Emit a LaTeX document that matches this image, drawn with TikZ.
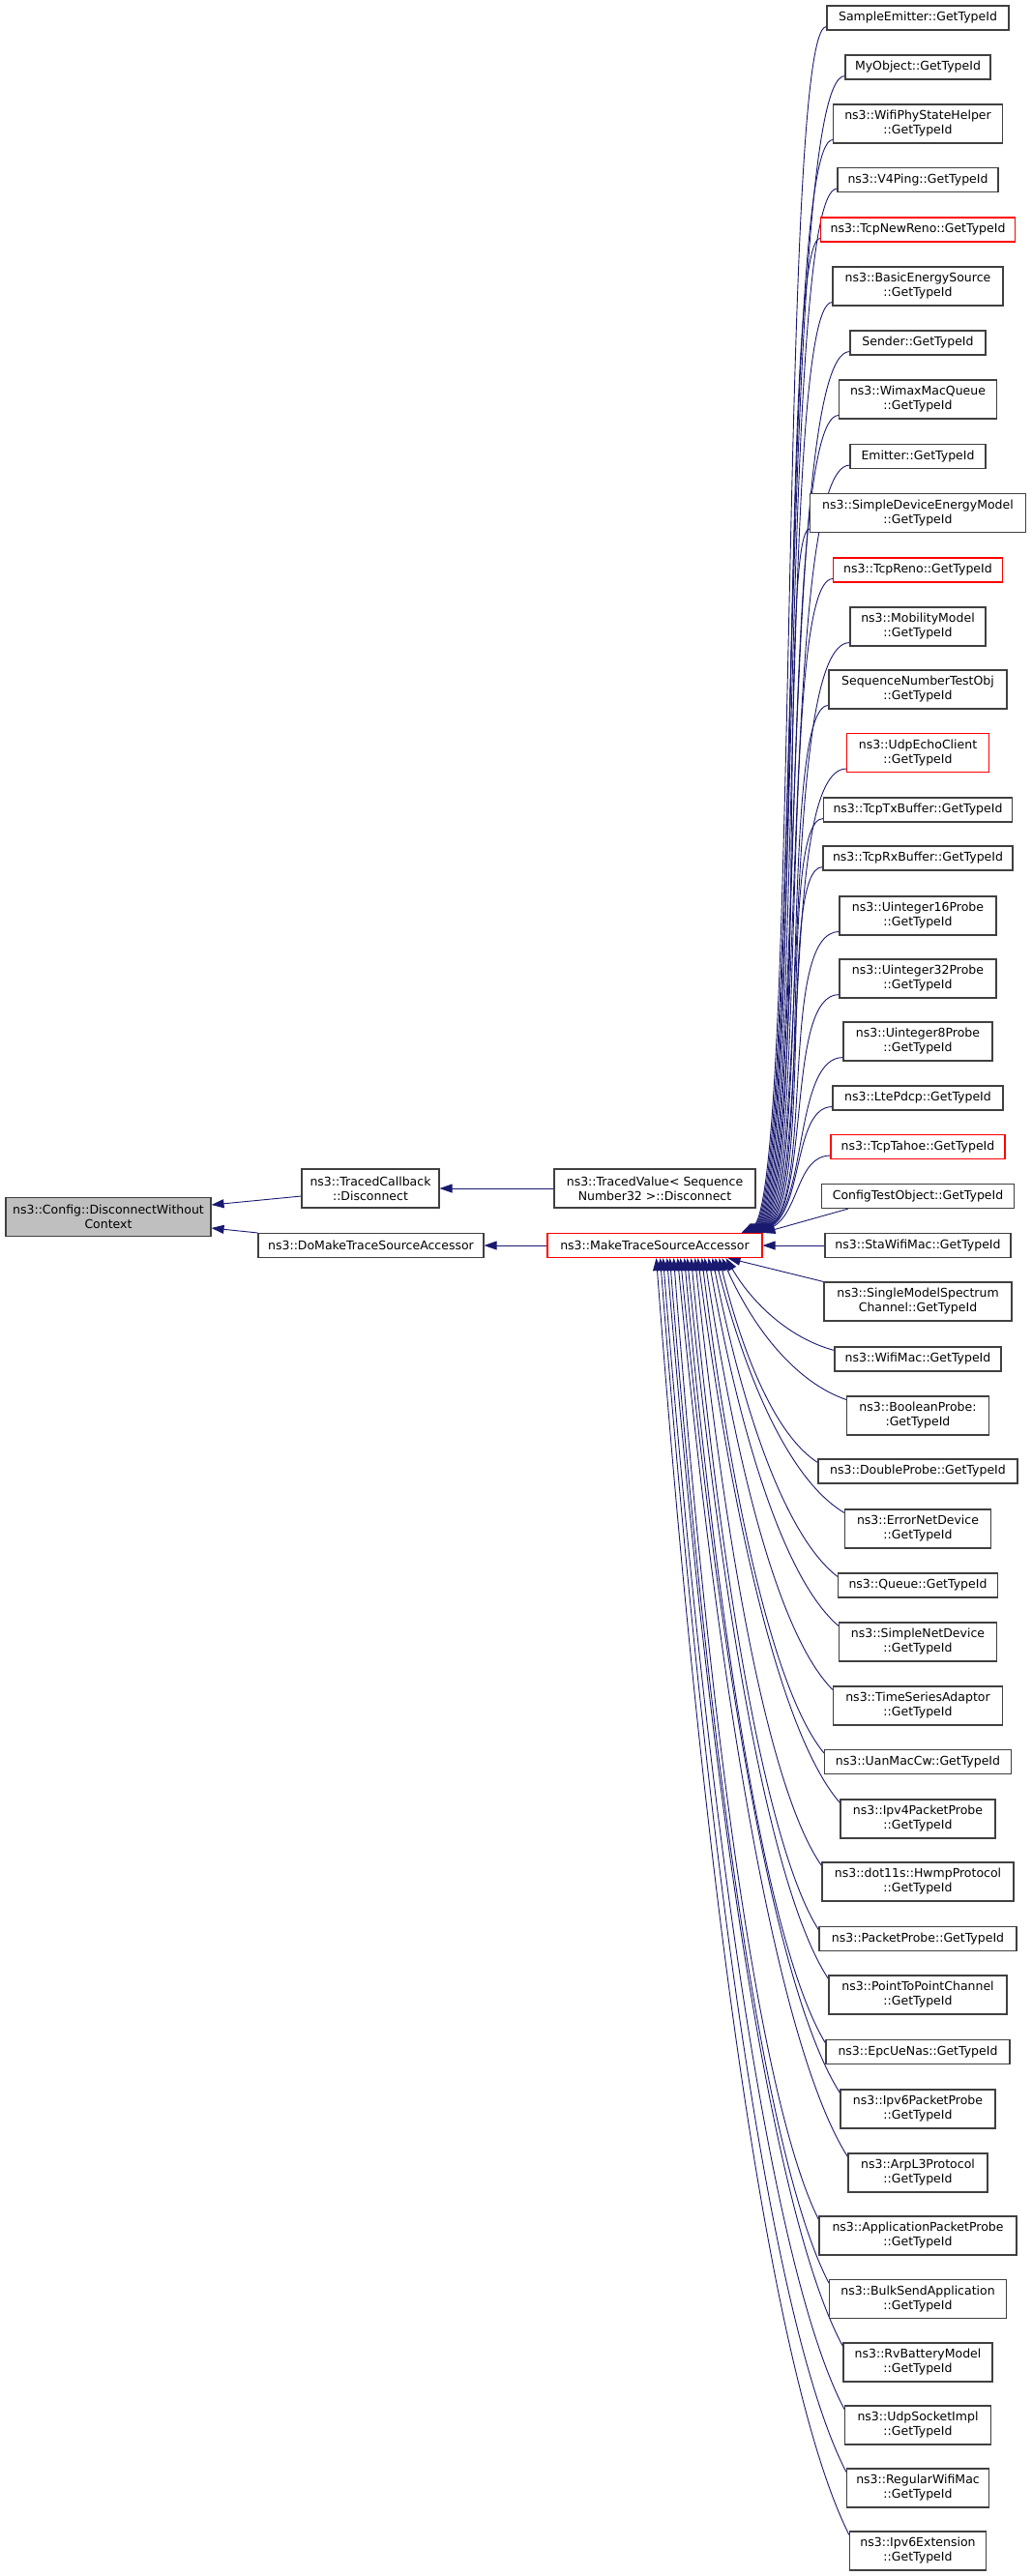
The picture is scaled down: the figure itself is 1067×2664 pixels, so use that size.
\documentclass[tikz,border=0pt]{standalone}
\usepackage{fontspec}
\setmainfont{DejaVu Sans}
\usetikzlibrary{calc, arrows.meta, backgrounds}
\definecolor{edgeblue}{HTML}{191970}
\definecolor{nodegray}{HTML}{BFBFBF}

\begin{document}
\begin{tikzpicture}[x = 1pt, y = -1pt,
 box/.style = {draw = black!75, line width = 1.1pt, fill = white, align = center, inner xsep = 0pt, inner ysep = 0pt, minimum height = 25pt, font = \fontsize{12.5pt}{15pt}\selectfont},
 box2/.style = {box, minimum height = 40pt},
 redbox/.style = {draw = red},
 edge/.style = {draw = edgeblue, line width = 0.9pt, -{Triangle[length = 13pt, width = 9pt]}}]
 \useasboundingbox (0,0) rectangle (1067,2664);
 % left part
 \node[box2, fill = nodegray, minimum width = 212pt] (DWC) at (112, 1258.5) {ns3::Config::DisconnectWithout\\Context};
 \node[box2, minimum width = 142pt] (TCB) at (383, 1229) {ns3::TracedCallback\\::Disconnect};
 \node[box, minimum width = 233pt] (DMTSA) at (383.5, 1288) {ns3::DoMakeTraceSourceAccessor};
 \node[box2, minimum width = 208pt] (TV) at (677, 1229) {ns3::TracedValue< Sequence\\Number32 >::Disconnect};
 \node[box, redbox, minimum width = 222pt] (MTSA) at (677, 1288) {ns3::MakeTraceSourceAccessor};
 % right column
 \node[box, minimum width = 188pt] (SE) at (949, 18.5) {SampleEmitter::GetTypeId};
 \node[box, minimum width = 150pt] (MO) at (949, 69.5) {MyObject::GetTypeId};
 \node[box2, minimum width = 175pt] (WPSH) at (949, 128) {ns3::WifiPhyStateHelper\\::GetTypeId};
 \node[box, minimum width = 166pt] (VP) at (949, 186) {ns3::V4Ping::GetTypeId};
 \node[box, redbox, minimum width = 201pt] (TNR) at (949, 237.5) {ns3::TcpNewReno::GetTypeId};
 \node[box2, minimum width = 176pt] (BES) at (949, 296) {ns3::BasicEnergySource\\::GetTypeId};
 \node[box, minimum width = 140pt] (SD) at (949, 354.5) {Sender::GetTypeId};
 \node[box2, minimum width = 163pt] (WMQ) at (949, 413) {ns3::WimaxMacQueue\\::GetTypeId};
 \node[box, minimum width = 140pt] (EM) at (949, 472) {Emitter::GetTypeId};
 \node[box2, minimum width = 223pt] (SDEM) at (949, 530.5) {ns3::SimpleDeviceEnergyModel\\::GetTypeId};
 \node[box, redbox, minimum width = 175pt] (TR) at (949, 589.5) {ns3::TcpReno::GetTypeId};
 \node[box2, minimum width = 140pt] (MM) at (949, 648) {ns3::MobilityModel\\::GetTypeId};
 \node[box2, minimum width = 184pt] (SNTO) at (949, 713) {SequenceNumberTestObj\\::GetTypeId};
 \node[box2, redbox, minimum width = 147pt] (UEC) at (949, 778.5) {ns3::UdpEchoClient\\::GetTypeId};
 \node[box, minimum width = 195pt] (TTB) at (949, 837.5) {ns3::TcpTxBuffer::GetTypeId};
 \node[box, minimum width = 196pt] (TRB) at (949, 887.5) {ns3::TcpRxBuffer::GetTypeId};
 \node[box2, minimum width = 162pt] (UP16) at (949, 947) {ns3::Uinteger16Probe\\::GetTypeId};
 \node[box2, minimum width = 162pt] (UP32) at (949, 1012) {ns3::Uinteger32Probe\\::GetTypeId};
 \node[box2, minimum width = 154pt] (UP8) at (949, 1077) {ns3::Uinteger8Probe\\::GetTypeId};
 \node[box, minimum width = 176pt] (LP) at (949, 1135.5) {ns3::LtePdcp::GetTypeId};
 \node[box, redbox, minimum width = 180pt] (TT) at (949, 1186) {ns3::TcpTahoe::GetTypeId};
 \node[box, minimum width = 199pt] (CTO) at (949, 1237) {ConfigTestObject::GetTypeId};
 \node[box, minimum width = 192pt] (SWM) at (949, 1288) {ns3::StaWifiMac::GetTypeId};
 \node[box2, minimum width = 194pt] (SMSC) at (949, 1346) {ns3::SingleModelSpectrum\\Channel::GetTypeId};
 \node[box, minimum width = 172pt] (WM) at (949, 1405.5) {ns3::WifiMac::GetTypeId};
 \node[box2, minimum width = 147pt] (BP) at (949, 1464) {ns3::BooleanProbe:\\:GetTypeId};
 \node[box, minimum width = 206pt] (DP) at (949, 1521.5) {ns3::DoubleProbe::GetTypeId};
 \node[box2, minimum width = 151pt] (END) at (949, 1581) {ns3::ErrorNetDevice\\::GetTypeId};
 \node[box, minimum width = 165pt] (QU) at (949, 1639.5) {ns3::Queue::GetTypeId};
 \node[box2, minimum width = 163pt] (SNDV) at (949, 1698) {ns3::SimpleNetDevice\\::GetTypeId};
 \node[box2, minimum width = 175pt] (TSA) at (949, 1764) {ns3::TimeSeriesAdaptor\\::GetTypeId};
 \node[box, minimum width = 193pt] (UMC) at (949, 1822) {ns3::UanMacCw::GetTypeId};
 \node[box2, minimum width = 160pt] (IP4) at (949, 1881) {ns3::Ipv4PacketProbe\\::GetTypeId};
 \node[box2, minimum width = 198pt] (HP) at (949, 1946) {ns3::dot11s::HwmpProtocol\\::GetTypeId};
 \node[box, minimum width = 204pt] (PP) at (949, 2005) {ns3::PacketProbe::GetTypeId};
 \node[box2, minimum width = 184pt] (PPC) at (949, 2063) {ns3::PointToPointChannel\\::GetTypeId};
 \node[box, minimum width = 190pt] (EUN) at (949, 2122) {ns3::EpcUeNas::GetTypeId};
 \node[box2, minimum width = 160pt] (IP6) at (949, 2181) {ns3::Ipv6PacketProbe\\::GetTypeId};
 \node[box2, minimum width = 144pt] (ARP) at (949, 2247) {ns3::ArpL3Protocol\\::GetTypeId};
 \node[box2, minimum width = 204pt] (APP) at (949, 2312) {ns3::ApplicationPacketProbe\\::GetTypeId};
 \node[box2, minimum width = 183pt] (BSA) at (949, 2377.5) {ns3::BulkSendApplication\\::GetTypeId};
 \node[box2, minimum width = 154pt] (RBM) at (949, 2443) {ns3::RvBatteryModel\\::GetTypeId};
 \node[box2, minimum width = 151pt] (USI) at (949, 2508) {ns3::UdpSocketImpl\\::GetTypeId};
 \node[box2, minimum width = 147pt] (RWM) at (949, 2573) {ns3::RegularWifiMac\\::GetTypeId};
 \node[box2, minimum width = 141pt] (IE) at (949, 2638) {ns3::Ipv6Extension\\::GetTypeId};
 \begin{pgfonlayer}{background}
 % left edges
 \draw[edge] ($(TCB.west)+(0,8)$) -- ($(DWC.east)+(0,-12.5)$);
 \draw[edge] (DMTSA.north west) -- ($(DWC.east)+(0,11.5)$);
 \draw[edge] (TV.west) -- (TCB.east);
 \draw[edge] (MTSA.west) -- (DMTSA.east);
 % edges into the top of MTSA
 \draw[edge] ($(SE.south west)+(0,-4)$) .. controls +(-50,0) and +(60,-30) .. ($(MTSA.north east)+(-22,0)$);
 \draw[edge] ($(MO.south west)+(0,-4)$) .. controls +(-69,0) and +(60,-30) .. ($(MTSA.north east)+(-21,0)$);
 \draw[edge] ($(WPSH.south west)+(0,-4)$) .. controls +(-57,0) and +(60,-30) .. ($(MTSA.north east)+(-20,0)$);
 \draw[edge] ($(VP.south west)+(0,-4)$) .. controls +(-61,0) and +(60,-30) .. ($(MTSA.north east)+(-19,0)$);
 \draw[edge] ($(TNR.south west)+(0,-4)$) .. controls +(-44,0) and +(60,-30) .. ($(MTSA.north east)+(-18,0)$);
 \draw[edge] ($(BES.south west)+(0,-4)$) .. controls +(-56,0) and +(60,-30) .. ($(MTSA.north east)+(-17,0)$);
 \draw[edge] ($(SD.south west)+(0,-4)$) .. controls +(-74,0) and +(60,-30) .. ($(MTSA.north east)+(-16,0)$);
 \draw[edge] ($(WMQ.south west)+(0,-4)$) .. controls +(-63,0) and +(60,-30) .. ($(MTSA.north east)+(-15,0)$);
 \draw[edge] ($(EM.south west)+(0,-4)$) .. controls +(-74,0) and +(60,-30) .. ($(MTSA.north east)+(-14,0)$);
 \draw[edge] ($(SDEM.south west)+(0,-4)$) .. controls +(-33,0) and +(60,-30) .. ($(MTSA.north east)+(-13,0)$);
 \draw[edge] ($(TR.south west)+(0,-4)$) .. controls +(-57,0) and +(60,-30) .. ($(MTSA.north east)+(-12,0)$);
 \draw[edge] ($(MM.south west)+(0,-4)$) .. controls +(-74,0) and +(60,-30) .. ($(MTSA.north east)+(-11,0)$);
 \draw[edge] ($(SNTO.south west)+(0,-4)$) .. controls +(-52,0) and +(60,-30) .. ($(MTSA.north east)+(-10,0)$);
 \draw[edge] ($(UEC.south west)+(0,-4)$) .. controls +(-71,0) and +(60,-30) .. ($(MTSA.north east)+(-9,0)$);
 \draw[edge] ($(TTB.south west)+(0,-4)$) .. controls +(-47,0) and +(60,-30) .. ($(MTSA.north east)+(-8,0)$);
 \draw[edge] ($(TRB.south west)+(0,-4)$) .. controls +(-46,0) and +(60,-30) .. ($(MTSA.north east)+(-7,0)$);
 \draw[edge] ($(UP16.south west)+(0,-4)$) .. controls +(-63,0) and +(60,-30) .. ($(MTSA.north east)+(-6,0)$);
 \draw[edge] ($(UP32.south west)+(0,-4)$) .. controls +(-55,0) and +(55,-30) .. ($(MTSA.north east)+(-5,0)$);
 \draw[edge] ($(UP8.south west)+(0,-4)$) .. controls +(-50,0) and +(50,-28) .. ($(MTSA.north east)+(-4,0)$);
 \draw[edge] ($(LP.south west)+(0,-4)$) .. controls +(-40,0) and +(45,-25) .. ($(MTSA.north east)+(-3,0)$);
 \draw[edge] ($(TT.south west)+(0,-4)$) .. controls +(-35,0) and +(40,-20) .. ($(MTSA.north east)+(-2,0)$);
 % straight ones
 \draw[edge] ($(CTO.south west)+(28,0)$) -- (MTSA.north east);
 \draw[edge] (SWM.west) -- (MTSA.east);
 \draw[edge] (SMSC.north west) -- ($(MTSA.south east)+(-36,0)$);
 % edges into the bottom of MTSA
 \draw[edge] ($(WM.north west)+(0,4)$) .. controls +(-45,-12) and +(28,48) .. ($(MTSA.south east)+(-38,0)$);
 \draw[edge] ($(BP.north west)+(0,4)$) .. controls +(-52,-18) and +(33,74) .. ($(MTSA.south east)+(-42,0)$);
 \draw[edge] ($(DP.north west)+(0,4)$) .. controls +(-41,-26) and +(26,107) .. ($(MTSA.south east)+(-45,0)$);
 \draw[edge] ($(END.north west)+(0,4)$) .. controls +(-54,-32) and +(34,133) .. ($(MTSA.south east)+(-49,0)$);
 \draw[edge] ($(QU.north west)+(0,4)$) .. controls +(-52,-40) and +(33,166) .. ($(MTSA.south east)+(-52,0)$);
 \draw[edge] ($(SNDV.north west)+(0,4)$) .. controls +(-54,-46) and +(34,191) .. ($(MTSA.south east)+(-56,0)$);
 \draw[edge] ($(TSA.north west)+(0,4)$) .. controls +(-54,-54) and +(34,224) .. ($(MTSA.south east)+(-60,0)$);
 \draw[edge] ($(UMC.north west)+(0,4)$) .. controls +(-51,-62) and +(32,257) .. ($(MTSA.south east)+(-63,0)$);
 \draw[edge] ($(IP4.north west)+(0,4)$) .. controls +(-59,-68) and +(37,283) .. ($(MTSA.south east)+(-67,0)$);
 \draw[edge] ($(HP.north west)+(0,4)$) .. controls +(-53,-76) and +(33,315) .. ($(MTSA.south east)+(-70,0)$);
 \draw[edge] ($(PP.north west)+(0,4)$) .. controls +(-53,-84) and +(33,348) .. ($(MTSA.south east)+(-74,0)$);
 \draw[edge] ($(PPC.north west)+(0,4)$) .. controls +(-59,-90) and +(37,374) .. ($(MTSA.south east)+(-78,0)$);
 \draw[edge] ($(EUN.north west)+(0,4)$) .. controls +(-59,-98) and +(37,407) .. ($(MTSA.south east)+(-81,0)$);
 \draw[edge] ($(IP6.north west)+(0,4)$) .. controls +(-66,-104) and +(42,433) .. ($(MTSA.south east)+(-85,0)$);
 \draw[edge] ($(ARP.north west)+(0,4)$) .. controls +(-71,-112) and +(44,466) .. ($(MTSA.south east)+(-88,0)$);
 \draw[edge] ($(APP.north west)+(0,4)$) .. controls +(-60,-120) and +(38,498) .. ($(MTSA.south east)+(-92,0)$);
 \draw[edge] ($(BSA.north west)+(0,4)$) .. controls +(-66,-127) and +(42,531) .. ($(MTSA.south east)+(-96,0)$);
 \draw[edge] ($(RBM.north west)+(0,4)$) .. controls +(-73,-135) and +(46,564) .. ($(MTSA.south east)+(-99,0)$);
 \draw[edge] ($(USI.north west)+(0,4)$) .. controls +(-75,-143) and +(47,596) .. ($(MTSA.south east)+(-103,0)$);
 \draw[edge] ($(RWM.north west)+(0,4)$) .. controls +(-78,-151) and +(49,629) .. ($(MTSA.south east)+(-106,0)$);
 \draw[edge] ($(IE.north west)+(0,4)$) .. controls +(-80,-159) and +(50,661) .. ($(MTSA.south east)+(-110,0)$);
 \end{pgfonlayer}
\end{tikzpicture}
\end{document}
